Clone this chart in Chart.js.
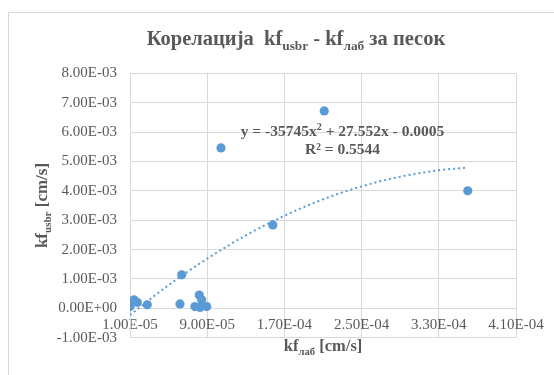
<!DOCTYPE html>
<html><head><meta charset="utf-8">
<script src="https://cdn.jsdelivr.net/npm/chart.js@4/dist/chart.umd.min.js"></script>
<style>
html,body{margin:0;padding:0;background:#fff;overflow:hidden;}
#wrap{position:absolute;left:0;top:0;width:554px;height:375px;}
#frame{position:absolute;left:8px;top:12px;width:600px;height:400px;border:1.5px solid #d9d9d9;box-sizing:border-box;}
#c{position:absolute;left:0;top:0;}
</style></head><body>
<div id="wrap"><div id="frame"></div><canvas id="c" width="554" height="375"></canvas></div>
<script>
// measured data: kf_lab (x) and kf_usbr (y), cm/s
const kfLab  = [1.0e-5, 1.41e-5, 1.76e-5, 2.79e-5, 1.0e-5, 6.18e-5, 6.36e-5, 8.18e-5, 7.73e-5, 8.43e-5, 8.95e-5, 8.25e-5, 1.043e-4, 2.113e-4, 1.58e-4, 3.60e-4];
const kfUsbr = [1.8e-4, 2.9e-4, 2.0e-4, 1.2e-4, 0.6e-4, 1.5e-4, 1.14e-3, 4.5e-4, 0.6e-4, 2.9e-4, 0.6e-4, 0.3e-4, 5.46e-3, 6.72e-3, 2.84e-3, 4.0e-3];
// polynomial trendline
const trendX = [1e-5, 5e-5, 9e-5, 1.3e-4, 1.7e-4, 2.1e-4, 2.5e-4, 2.9e-4, 3.3e-4, 3.6e-4];
const trendY = [-2.3e-4, 7.9e-4, 1.69e-3, 2.48e-3, 3.15e-3, 3.71e-3, 4.15e-3, 4.48e-3, 4.70e-3, 4.79e-3];
// tick values
const xTicks = [1e-5, 9e-5, 1.7e-4, 2.5e-4, 3.3e-4, 4.1e-4];
const yTicks = [-1e-3, 0, 1e-3, 2e-3, 3e-3, 4e-3, 5e-3, 6e-3, 7e-3, 8e-3];
// texts
const titleParts = [{t:'Корелација  kf'},{t:'usbr',sub:true},{t:' - kf'},{t:'лаб',sub:true},{t:' за песок'}];
const xTitleParts = [{t:'kf'},{t:'лаб',sub:true},{t:' [cm/s]'}];
const yTitleParts = [{t:'kf'},{t:'usbr',sub:true},{t:' [cm/s]'}];
const eqParts = [{t:'y = -35745x'},{t:'2',sup:true},{t:' + 27.552x - 0.0005'}];
const r2Parts = [{t:'R² = 0.5544'}];

const SERIF = "'Liberation Serif','Times New Roman',serif";
const GRAY = '#595959';
const BLUE = '#5B9BD5';

function fmtE(v){
  let s = Number(v).toExponential(2);
  let [m, e] = s.split('e');
  let sign = e[0] === '-' ? '-' : '+';
  let d = e.replace(/[+-]/,'');
  if (d.length < 2) d = '0' + d;
  return m + 'E' + sign + d;
}

function drawRich(ctx, parts, x, y, size){
  const f = s => 'bold ' + s + 'px ' + SERIF;
  let w = 0;
  parts.forEach(p => { const s = (p.sub||p.sup) ? size*0.65 : size; ctx.font = f(s); p._w = ctx.measureText(p.t).width; w += p._w; });
  let cx = x - w/2;
  ctx.textAlign = 'left';
  parts.forEach(p => {
    const s = (p.sub||p.sup) ? size*0.65 : size;
    ctx.font = f(s);
    const dy = p.sub ? size*0.22 : (p.sup ? -size*0.38 : 0);
    ctx.fillText(p.t, cx, y + dy);
    cx += p._w;
  });
}

const textPlugin = {
  id: 'texts',
  afterDraw(chart){
    const ctx = chart.ctx, ca = chart.chartArea;
    ctx.save();
    ctx.fillStyle = GRAY;
    ctx.textBaseline = 'alphabetic';
    drawRich(ctx, titleParts, 296, 45, 20.5);
    drawRich(ctx, xTitleParts, (ca.left + ca.right)/2, 351, 16.5);
    drawRich(ctx, eqParts, 342.5, 136, 15.5);
    drawRich(ctx, r2Parts, 342.5, 153.5, 15.5);
    ctx.save();
    ctx.translate(47, (ca.top + ca.bottom)/2);
    ctx.rotate(-Math.PI/2);
    drawRich(ctx, yTitleParts, 0, 0, 17);
    ctx.restore();
    ctx.restore();
  }
};

new Chart(document.getElementById('c'), {
  type: 'scatter',
  data: {
    datasets: [
      {
        label: 'kf',
        data: kfLab.map((x, i) => ({x, y: kfUsbr[i]})),
        backgroundColor: BLUE, borderColor: BLUE, borderWidth: 0,
        pointRadius: 4.6, pointHoverRadius: 4.6, order: 2
      },
      {
        label: 'trend',
        type: 'line',
        data: trendX.map((x, i) => ({x, y: trendY[i]})),
        showLine: true, fill: false,
        borderColor: BLUE, borderWidth: 2, borderDash: [2, 3],
        cubicInterpolationMode: 'monotone',
        pointRadius: 0, order: 1
      }
    ]
  },
  options: {
    responsive: false, animation: false, devicePixelRatio: 1,
    layout: { padding: { left: 40, right: 38, top: 73.3, bottom: 37.3 } },
    plugins: { legend: { display: false }, tooltip: { enabled: false }, title: { display: false } },
    scales: {
      x: {
        type: 'linear', min: 1e-5, max: 4.1e-4,
        position: { y: 0 },
        afterBuildTicks: s => { s.ticks = xTicks.map(v => ({value: v})); },
        ticks: { callback: v => fmtE(v), color: GRAY, font: { family: SERIF, size: 15 }, padding: 8, maxRotation: 0, autoSkip: false },
        grid: { color: '#d9d9d9', drawTicks: false },
        border: { color: '#d9d9d9' }
      },
      y: {
        type: 'linear', min: -1e-3, max: 8e-3, position: 'left',
        afterBuildTicks: s => { s.ticks = yTicks.map(v => ({value: v})); },
        afterFit: s => { s.width = 90; },
        ticks: { callback: v => fmtE(v), color: GRAY, font: { family: SERIF, size: 15 }, padding: 13, autoSkip: false },
        grid: { color: '#d9d9d9', drawTicks: false },
        border: { color: '#d9d9d9' }
      }
    }
  },
  plugins: [textPlugin]
});
</script>
</body></html>
